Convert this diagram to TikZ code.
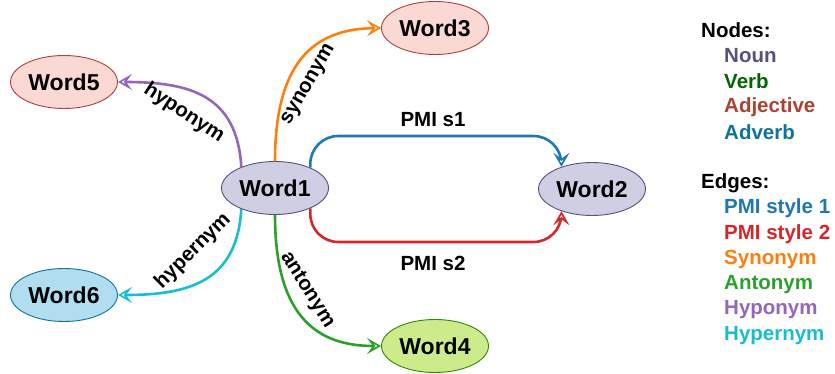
\documentclass[tikz,border=0pt]{standalone}
\usepackage{fontspec}
\setmainfont{Liberation Sans}
\usepackage{tikz}
\usetikzlibrary{shapes.geometric, arrows.meta, calc}

\definecolor{nounfill}{HTML}{D0CEE2}
\definecolor{noundraw}{HTML}{56517E}
\definecolor{adjfill}{HTML}{FAD9D5}
\definecolor{adjdraw}{HTML}{AE4132}
\definecolor{advfill}{HTML}{B1DDF0}
\definecolor{advdraw}{HTML}{10739E}
\definecolor{verbfill}{HTML}{CDEB8B}
\definecolor{verbdraw}{HTML}{2D8A00}
\definecolor{verbtext}{HTML}{006600}
\definecolor{pmione}{HTML}{1F77B4}
\definecolor{pmitwo}{HTML}{D62728}
\definecolor{syncol}{HTML}{FF7F0E}
\definecolor{antcol}{HTML}{2CA02C}
\definecolor{hypocol}{HTML}{9467BD}
\definecolor{hypercol}{HTML}{17BECF}

\tikzset{
  word/.style={ellipse, minimum width=107pt, minimum height=53pt, inner sep=0pt,
    line width=0.9pt, font=\fontsize{23}{27}\selectfont\bfseries},
  noun/.style={word, fill=nounfill, draw=noundraw},
  adj/.style={word, fill=adjfill, draw=adjdraw},
  adv/.style={word, fill=advfill, draw=advdraw},
  verb/.style={word, fill=verbfill, draw=verbdraw},
  rel/.style={line width=2.6pt,
    -{Stealth[fill=white, length=14pt, width=16pt, inset=6pt, line width=1.7pt]}},
  lbl/.style={font=\fontsize{20.5}{24}\selectfont\bfseries, inner sep=0pt},
  legitem/.style={lbl, anchor=west}
}

\begin{document}
\begin{tikzpicture}[x=1pt, y=-1pt]
\useasboundingbox (0,0) rectangle (835,374);

% word nodes
\node[noun] (w1) at (275,188) {Word1};
\node[noun] (w2) at (592,189) {Word2};
\node[adj]  (w3) at (435,28)  {Word3};
\node[verb] (w4) at (435,346) {Word4};
\node[adj]  (w5) at (64,82)   {Word5};
\node[adv]  (w6) at (64,295)  {Word6};

% PMI edges
\coordinate (s1) at (433,136);
\coordinate (s2) at (433,242);
\draw[rel, pmione, rounded corners=28pt] (w1.30) |- (s1) -| (w2.144);
\draw[rel, pmitwo, rounded corners=28pt] (w1.-30) |- (s2) -| (w2.-144);
\node[lbl] (ls1) at (433,120) {PMI s1};
\node[lbl] (ls2) at (433,263) {PMI s2};

% lexical relations
\draw[rel, syncol] (w1.north) .. controls (275,55) and (320,29) .. (w3.west);
\draw[rel, antcol] (w1.south) .. controls (275,320) and (320,346) .. (w4.west);
\draw[rel, hypocol] (w1.148) .. controls (237,95) and (190,82) .. (w5.east);
\draw[rel, hypercol] (w1.212) .. controls (237,281) and (190,295) .. (w6.east);

\node[lbl, rotate=60]  (lsyn)   at (309,85)  {synonym};
\node[lbl, rotate=-58] (lant)   at (307,290) {antonym};
\node[lbl, rotate=-33] (lhypo)  at (184,113) {hyponym};
\node[lbl, rotate=45]  (lhyper) at (193,251) {hypernym};

% legend
\node[legitem] (nodes) at (701,30) {Nodes:};
\foreach \txt/\col [count=\i] in {Noun/noundraw, Verb/verbtext, Adjective/adjdraw, Adverb/advdraw}
  \node[legitem, text=\col] (n\i) at (724,30+\i*25.6) {\txt};
\node[legitem] (edges) at (701,183) {Edges:};
\foreach \txt/\col [count=\i] in {PMI style 1/pmione, PMI style 2/pmitwo, Synonym/syncol,
    Antonym/antcol, Hyponym/hypocol, Hypernym/hypercol}
  \node[legitem, text=\col] (e\i) at (724,183+\i*25.4) {\txt};
\end{tikzpicture}
\end{document}
